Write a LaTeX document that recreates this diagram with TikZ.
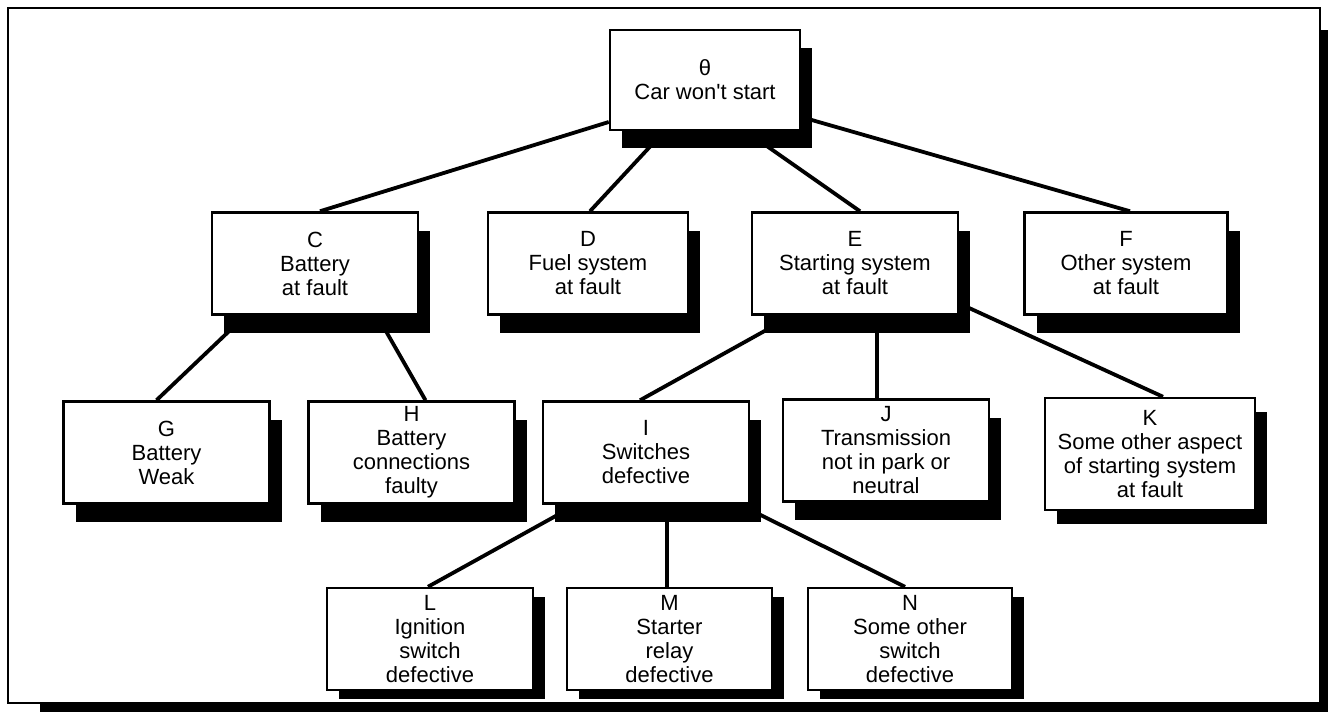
\documentclass[tikz,border=0pt]{standalone}
\usepackage{fontspec}
\setmainfont{Liberation Sans}
\usetikzlibrary{calc,shadows,backgrounds}
\tikzset{
  faultbox/.style={draw=black, line width=2.5pt, fill=white,
    minimum width=206pt, minimum height=102pt, inner sep=2pt,
    align=center, font=\fontsize{22}{24}\selectfont,
    general shadow={fill=black, shadow xshift=12pt, shadow yshift=-#1}},
  faultbox/.default=18pt,
  conn/.style={line width=3.8pt},
  frameshadow/.style={fill=black},
  frameline/.style={draw=black, line width=2.5pt, fill=white}
}
\begin{document}
\begin{tikzpicture}[x=1pt, y=-1pt]
  \useasboundingbox (0,0) rectangle (1328,712);

  % top event
  \node[faultbox, minimum width=190pt, minimum height=100pt] (T) at (705,80) {θ\\Car won\textquotesingle t start};

  % second level
  \node[faultbox] (C) at (315,263.5) {C\\Battery\\at fault};
  \node[faultbox, minimum width=200pt] (D) at (588,263.5) {D\\Fuel system\\at fault};
  \node[faultbox] (E) at (855,263.5) {E\\Starting system\\at fault};
  \node[faultbox, minimum width=203pt] (F) at (1126,263.5) {F\\Other system\\at fault};

  % third level
  \node[faultbox] (G) at (166.5,452.5) {G\\Battery\\Weak};
  \node[faultbox] (H) at (411.5,452.5) {H\\Battery\\connections\\faulty};
  \node[faultbox] (I) at (646,452.5) {I\\Switches\\defective};
  \node[faultbox] (J) at (886,450.5) {J\\Transmission\\not in park or\\neutral};
  \node[faultbox=14pt, minimum width=210pt, minimum height=112pt] (K) at (1150,454) {K\\Some other aspect\\of starting system\\at fault};

  % fourth level
  \node[faultbox=9pt] (L) at (430,639) {L\\Ignition\\switch\\defective};
  \node[faultbox=9pt, minimum width=205pt] (M) at (669.5,639) {M\\Starter\\relay\\defective};
  \node[faultbox=9pt, minimum width=204pt] (N) at (910,639) {N\\Some other\\switch\\defective};

  \begin{scope}[on background layer]
    % page frame with its shadow
    \fill[frameshadow] (40,30) rectangle (1328,712);
    \path[frameline] (8,8) rectangle (1320,703);

    % connectors
    \draw[conn] ($(T.west)+(0,42)$) -- ($(C.north)+(5,0)$);
    \draw[conn] ($(T.south)+(-50,10)$) -- ($(D.north)+(2,0)$);
    \draw[conn] ($(T.south)+(55,10)$) -- ($(E.north)+(5,0)$);
    \draw[conn] ($(T.east)+(0,37)$) -- ($(F.north)+(4,0)$);

    \draw[conn] ($(C.south)+(-75,5)$) -- ($(G.north)+(-10,0)$);
    \draw[conn] ($(C.south)+(65,5)$) -- ($(H.north)+(14,0)$);

    \draw[conn] ($(E.south)+(-72,5)$) -- ($(I.north)+(-6,0)$);
    \draw[conn] ($(E.south)+(22,0)$) -- ($(J.north)+(-9,0)$);
    \draw[conn] ($(E.east)+(0,40)$) -- ($(K.north)+(13,0)$);

    \draw[conn] ($(I.south)+(-70,0)$) -- ($(L.north)+(-2,0)$);
    \draw[conn] ($(I.south)+(21,0)$) -- ($(M.north)+(-2.5,0)$);
    \draw[conn] ($(I.south)+(94,0)$) -- ($(N.north)+(-5,0)$);
  \end{scope}
\end{tikzpicture}
\end{document}
